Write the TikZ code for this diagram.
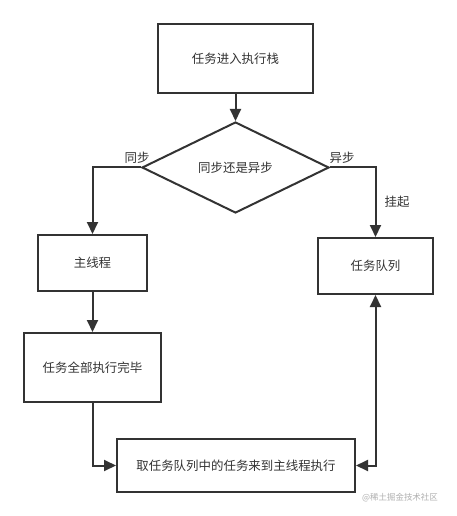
\documentclass[tikz,border=0pt]{standalone}
\usepackage{fontspec}
\setmainfont{Noto Sans CJK SC}
\usetikzlibrary{shapes.geometric,arrows.meta}
\definecolor{ln}{HTML}{333333}
\definecolor{wm}{HTML}{B0B0B0}
\begin{document}
\begin{tikzpicture}[x=1bp,y=-1bp,
  every node/.style={font=\fontsize{12.5}{15}\selectfont,text=ln},
  box/.style={draw=ln,line width=2bp,rectangle,inner sep=0pt,fill=white},
  dec/.style={draw=ln,line width=2bp,diamond,inner sep=0pt,minimum width=187bp,minimum height=91bp},
  arr/.style={draw=ln,line width=2bp,-{Triangle[length=12bp,width=11bp]}},
  arrb/.style={draw=ln,line width=2bp,{Triangle[length=12bp,width=11bp]}-{Triangle[length=12bp,width=11bp]}},
  lab/.style={inner sep=0pt}]
\useasboundingbox[fill=white] (0,0) rectangle (457,516);
\node[box,minimum width=155bp,minimum height=69bp] (top) at (235.5,58.5) {任务进入执行栈};
\node[dec] (dia) at (235.5,167.5) {同步还是异步};
\node[box,minimum width=109bp,minimum height=56bp] (main) at (92.5,263) {主线程};
\node[box,minimum width=137bp,minimum height=69bp] (done) at (92.5,367.5) {任务全部执行完毕};
\node[box,minimum width=115bp,minimum height=56bp] (queue) at (375.5,266) {任务队列};
\node[box,minimum width=238bp,minimum height=53bp] (final) at (236,465.5) {取任务队列中的任务来到主线程执行};
\draw[arr] (top) -- (dia);
\draw[arr] (dia.west) -| (main);
\draw[arr] (dia.east) -| (queue);
\draw[arr] (main) -- (done);
\draw[arr] (done.south) |- (final.west);
\draw[arrb] (queue.south) |- (final.east);
\node[lab] (l1) at (137,158) {同步};
\node[lab] (l2) at (342,158) {异步};
\node[lab] (l3) at (397,202) {挂起};
\node[lab,text=wm,font=\fontsize{8.5}{10}\selectfont] (wmk) at (400,498) {@稀土掘金技术社区};
\end{tikzpicture}
\end{document}
